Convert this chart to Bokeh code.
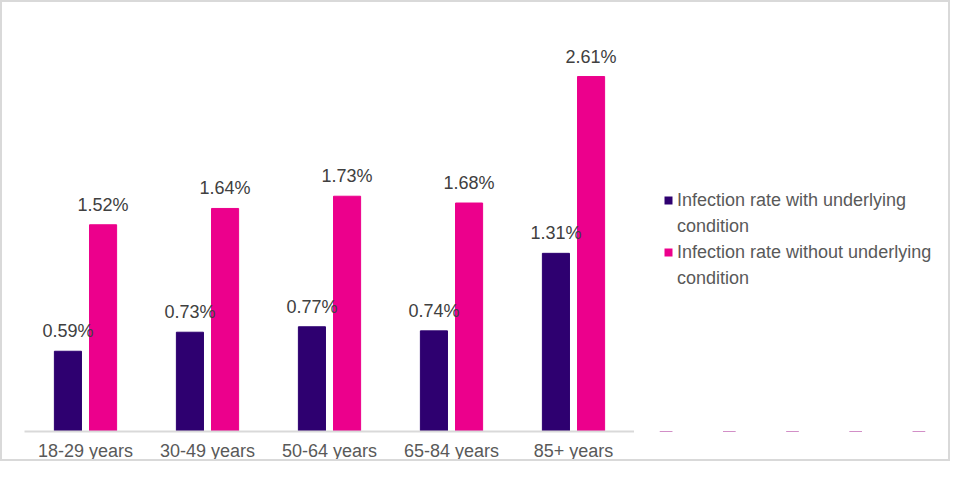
from bokeh.plotting import figure
from bokeh.layouts import row
from bokeh.models import ColumnDataSource, FactorRange, Range1d, LabelSet, Legend, LegendItem
from bokeh.transform import dodge
from bokeh.core.properties import value
from bokeh.embed import file_html
from bokeh.resources import INLINE

categories = ["18-29 years", "30-49 years", "50-64 years", "65-84 years", "85+ years"]
with_cond = [0.59, 0.73, 0.77, 0.74, 1.31]
without_cond = [1.52, 1.64, 1.73, 1.68, 2.61]
legend_lines = [["Infection rate with underlying", "condition"],
                ["Infection rate without underlying", "condition"]]
colors = ["#2e0070", "#ec008c"]

src = ColumnDataSource(dict(
    cat=categories,
    a=with_cond,
    b=without_cond,
    la=[f"{v:.2f}%" for v in with_cond],
    lb=[f"{v:.2f}%" for v in without_cond],
))

FONT = "Liberation Sans"
FS = "18px"
BORDER = "2px solid #d9d9d9"

p = figure(width=634, height=461, x_range=FactorRange(*categories, range_padding=0),
           y_range=Range1d(0, 3.0), output_backend="svg", toolbar_location=None,
           min_border_left=22, min_border_right=2, min_border_top=21, min_border_bottom=32)
p.styles = {"border": BORDER, "border-right": "none", "box-sizing": "border-box"}
p.outline_line_color = None
p.xgrid.grid_line_color = None
p.ygrid.grid_line_color = None
p.yaxis.visible = False
p.xaxis.axis_line_color = "#d9d9d9"
p.xaxis.axis_line_width = 2
p.xaxis.major_tick_line_color = None
p.xaxis.minor_tick_line_color = None
p.xaxis.major_label_text_font = FONT
p.xaxis.major_label_text_font_size = FS
p.xaxis.major_label_text_color = "#595959"
p.xaxis.major_label_standoff = 3

off = 0.144
bw = 0.222
p.vbar(x=dodge("cat", -off, range=p.x_range), top="a", width=bw, source=src, color=colors[0])
p.vbar(x=dodge("cat", off, range=p.x_range), top="b", width=bw, source=src, color=colors[1])

for col, lab, o in (("a", "la", -off), ("b", "lb", off)):
    ls = LabelSet(x=dodge("cat", o, range=p.x_range), y=col, text=lab, source=src,
                  text_align="center", text_baseline="bottom", y_offset=10,
                  text_font=value(FONT), text_font_size=value(FS), text_color=value("#404040"))
    p.add_layout(ls)

# legend panel (separate figure to the right); its proxy bars lie below its visible y range
lg = figure(width=316, height=461, x_range=FactorRange(*categories), y_range=Range1d(10, 11),
            output_backend="svg", toolbar_location=None,
            min_border_left=0, min_border_right=0, min_border_top=0, min_border_bottom=0)
lg.styles = {"border": BORDER, "border-left": "none", "box-sizing": "border-box"}
lg.outline_line_color = None
lg.axis.visible = False
lg.grid.visible = False
k1 = lg.vbar(x="cat", top="a", width=0.2, source=src, fill_color=colors[0], line_color=None)
k2 = lg.vbar(x="cat", top="b", width=0.2, source=src, fill_color=colors[1], line_color=None)
blank = lg.vbar(x="cat", top="a", width=0.2, source=src, fill_alpha=0, line_alpha=0, line_color=None)

items = []
for r, lines in zip((k1, k2), legend_lines):
    items.append(LegendItem(label=lines[0], renderers=[r]))
    items.append(LegendItem(label=lines[1], renderers=[blank]))

legend = Legend(items=items, location=(29, 142), padding=0, margin=0, spacing=4,
                glyph_width=10, glyph_height=10, label_standoff=4, label_height=22,
                label_text_font=FONT, label_text_font_size=FS, label_text_color="#595959",
                label_text_line_height=1.2,
                border_line_alpha=0, background_fill_alpha=0)
lg.add_layout(legend, "center")

layout = row(p, lg, spacing=0)
open("out.html", "w").write(file_html(layout, INLINE))
